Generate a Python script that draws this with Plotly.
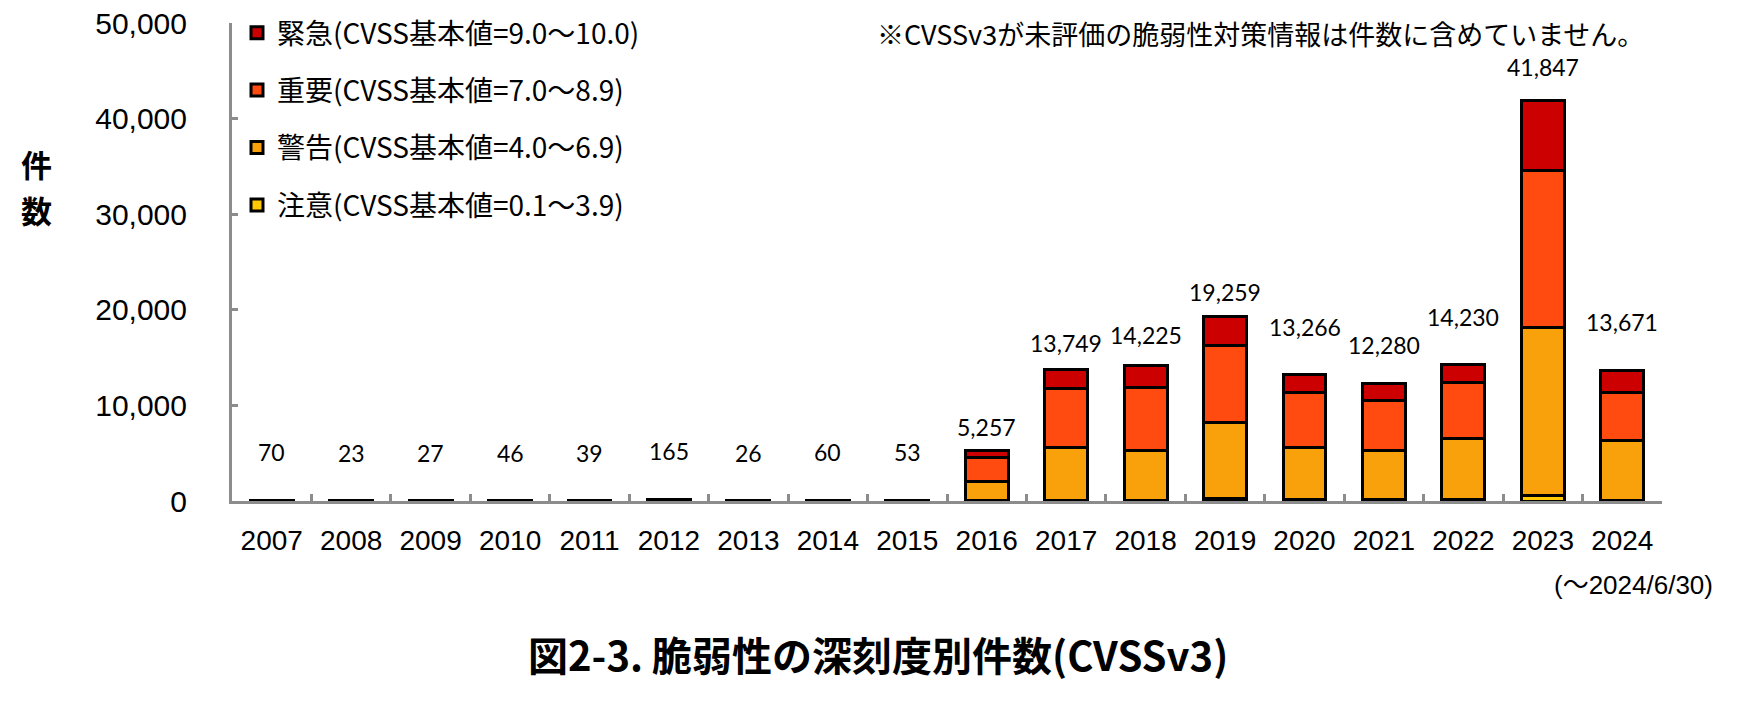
import plotly.graph_objects as go

years = ["2007", "2008", "2009", "2010", "2011", "2012", "2013", "2014", "2015",
         "2016", "2017", "2018", "2019", "2020", "2021", "2022", "2023", "2024"]
chui = [0, 0, 0, 0, 0, 1, 0, 0, 0, 10, 20, 20, 250, 150, 150, 200, 600, 30]
keikoku = [30, 10, 12, 20, 17, 70, 12, 25, 22, 2080, 5600, 5310, 7980, 5430, 5180, 6290, 17570, 6250]
juyo = [30, 10, 12, 20, 17, 75, 11, 28, 24, 2480, 6170, 6560, 8050, 5750, 5230, 5920, 16420, 5090]
kinkyu = [10, 3, 3, 6, 5, 19, 3, 7, 7, 687, 1959, 2335, 2979, 1936, 1720, 1820, 7257, 2301]

series_names = ["注意(CVSS基本値=0.1～3.9)", "警告(CVSS基本値=4.0～6.9)",
                "重要(CVSS基本値=7.0～8.9)", "緊急(CVSS基本値=9.0～10.0)"]
series_values = [chui, keikoku, juyo, kinkyu]
series_colors = ["#FFC800", "#F8A10B", "#FF4B0F", "#CC0000"]

totals = [sum(v) for v in zip(*series_values)]
# pixel offset of each total label above its bar (style)
label_shift_px = [48] * 9 + [24, 27, 30, 25, 47, 39, 48, 34, 48]

GRAY = "#8C8C8C"
SANS = "Liberation Sans, Arial, Noto Sans CJK JP, sans-serif"
CJK = "Noto Sans CJK JP, sans-serif"

# the page body has an 8px default margin; the figure is sized to fit inside the window
FIG_W, FIG_H = 1752, 706

fig = go.Figure()
n_series = len(series_names)
for i, (name, vals, col) in enumerate(zip(series_names, series_values, series_colors)):
    fig.add_trace(go.Bar(
        x=years, y=vals, name=name, legendgroup=str(i), legendrank=n_series - i,
        marker=dict(color=col, line=dict(color="black", width=3)),
        hoverinfo="x+y+name",
    ))

annotations = []
for idx, (tot, sh) in enumerate(zip(totals, label_shift_px)):
    annotations.append(dict(
        x=idx, y=tot, xref="x", yref="y", text=f"{tot:,}", showarrow=False,
        yshift=sh, yanchor="middle", font=dict(family="Lato, Open Sans, sans-serif", size=23, color="black"),
    ))

annotations += [
    dict(x=0.7195, y=0.977, xref="paper", yref="paper", xanchor="center", yanchor="middle",
         text="※CVSSv3が未評価の脆弱性対策情報は件数に含めていません。", showarrow=False,
         font=dict(family=CJK, size=27, color="black")),
    dict(x=1.037, y=-0.1757, xref="paper", yref="paper", xanchor="right", yanchor="middle",
         text="(～2024/6/30)", showarrow=False, font=dict(family=SANS, size=26, color="black")),
    dict(x=0.4517, y=-0.320, xref="paper", yref="paper", xanchor="center", yanchor="middle",
         text="<b>図2-3. 脆弱性の深刻度別件数(CVSSv3)</b>", showarrow=False,
         font=dict(family=CJK, size=40, color="black")),
    dict(x=-0.1364, y=0.7071, xref="paper", yref="paper", xanchor="center", yanchor="middle",
         text="<b>件</b>", showarrow=False, font=dict(family=CJK, size=31, color="black")),
    dict(x=-0.1364, y=0.6088, xref="paper", yref="paper", xanchor="center", yanchor="middle",
         text="<b>数</b>", showarrow=False, font=dict(family=CJK, size=31, color="black")),
]

fig.update_layout(
    width=FIG_W, height=FIG_H,
    margin=dict(l=224, r=98, t=15, b=213, pad=0, autoexpand=False),
    paper_bgcolor="white", plot_bgcolor="white",
    barmode="stack", bargap=0.46,
    showlegend=True,
    legend=dict(
        xref="container", yref="container",
        x=229 / FIG_W, y=1.0, xanchor="left", yanchor="top",
        traceorder="grouped", tracegroupgap=18,
        font=dict(family=CJK, size=28, color="black"),
        bgcolor="rgba(0,0,0,0)", itemclick=False,
    ),
    xaxis=dict(
        type="category", range=[-0.5, len(years) - 0.5], autorange=False,
        showline=True, linecolor=GRAY, linewidth=3, automargin=False,
        ticks="inside", tickson="boundaries", ticklen=7, tickwidth=2.5, tickcolor=GRAY,
        tickfont=dict(family=SANS, size=28, color="black"), tickangle=0,
        ticklabelstandoff=12, showgrid=False, zeroline=False,
    ),
    yaxis=dict(
        range=[0, 50001], autorange=False, tickmode="array",
        tickvals=[0, 10000, 20000, 30000, 40000, 50000],
        ticktext=["0", "10,000", "20,000", "30,000", "40,000", "50,000"],
        showline=True, linecolor=GRAY, linewidth=3, automargin=False,
        ticks="inside", ticklen=6, tickwidth=2.5, tickcolor=GRAY,
        tickfont=dict(family=SANS, size=30, color="black"),
        ticklabelstandoff=36, ticklabeloverflow="allow",
        showgrid=False, zeroline=False,
    ),
    annotations=annotations,
)

fig.write_html("out.html")
